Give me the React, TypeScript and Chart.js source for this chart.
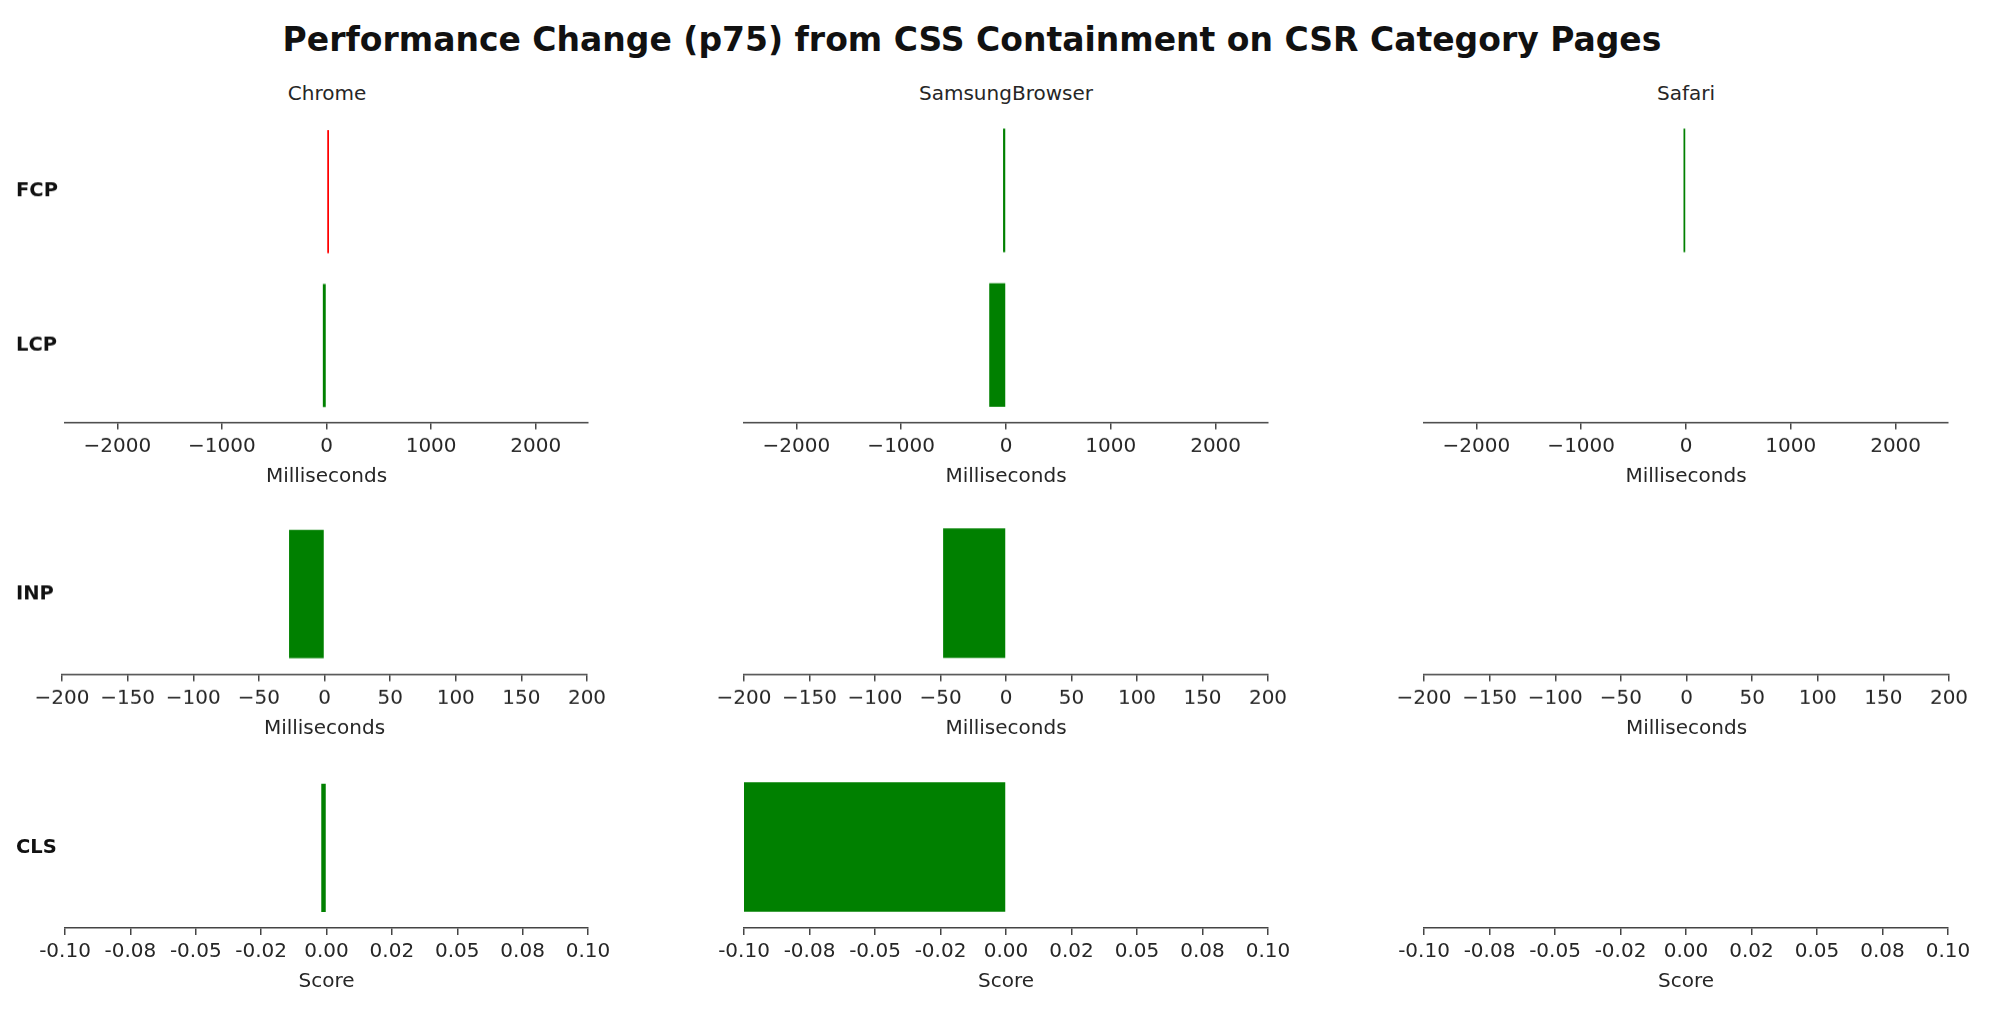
import React, { useEffect, useRef } from "react";
import { Chart, registerables } from "chart.js";

Chart.register(...registerables);

// ---------------- data ----------------
const chartTitle = "Performance Change (p75) from CSS Containment on CSR Category Pages";
const browsers = ["Chrome", "SamsungBrowser", "Safari"];

const timingMetrics = ["FCP", "LCP"];
const inpMetrics = ["INP"];
const clsMetrics = ["CLS"];

// p75 change per browser (negative = improvement)
const chromeTiming = [5, -35];
const samsungTiming = [-28, -160];
const safariTiming: (number | null)[] = [-3, null];

const chromeInp = [-27];
const samsungInp = [-48];
const safariInp: (number | null)[] = [null];

const chromeCls = [-0.002];
const samsungCls = [-0.1];
const safariCls: (number | null)[] = [null];

const timingRange = [-2500, 2500];
const timingTicks = [-2000, -1000, 0, 1000, 2000];
const timingTickLabels = ["\u22122000", "\u22121000", "0", "1000", "2000"];

const inpRange = [-200, 200];
const inpTicks = [-200, -150, -100, -50, 0, 50, 100, 150, 200];
const inpTickLabels = ["\u2212200", "\u2212150", "\u2212100", "\u221250", "0", "50", "100", "150", "200"];

const clsRange = [-0.1, 0.1];
const clsTicks = [-0.1, -0.075, -0.05, -0.025, 0, 0.025, 0.05, 0.075, 0.1];
const clsTickLabels = ["-0.10", "-0.08", "-0.05", "-0.02", "0.00", "0.02", "0.05", "0.08", "0.10"];

const msLabel = "Milliseconds";
const scoreLabel = "Score";

// ---------------- styling / layout ----------------
const FONT = "'DejaVu Sans', sans-serif";
const GREEN = "#008000";
const RED = "#ff0000";
const AXIS_COLOR = "#444444";
const TEXT_COLOR = "#262626";

Chart.defaults.font.family = FONT;

const PAD_R = 50;
const PAD_T = 10;
const X_AXIS_H = 70;
const ROW_LABEL_X = 16;

type RowDef = {
  metrics: string[];
  series: (number | null)[][];
  range: number[];
  ticks: number[];
  tickLabels: string[];
  axisTitle: string;
  areaTop: number;
  areaBottom: number;
  cols: number[][];
};

const rows: RowDef[] = [
  {
    metrics: timingMetrics,
    series: [chromeTiming, samsungTiming, safariTiming],
    range: timingRange,
    ticks: timingTicks,
    tickLabels: timingTickLabels,
    axisTitle: msLabel,
    areaTop: 113,
    areaBottom: 421.5,
    cols: [[65, 588], [744, 1268], [1424, 1948]],
  },
  {
    metrics: inpMetrics,
    series: [chromeInp, samsungInp, safariInp],
    range: inpRange,
    ticks: inpTicks,
    tickLabels: inpTickLabels,
    axisTitle: msLabel,
    areaTop: 512,
    areaBottom: 673.5,
    cols: [[62, 587], [744, 1268], [1424, 1949]],
  },
  {
    metrics: clsMetrics,
    series: [chromeCls, samsungCls, safariCls],
    range: clsRange,
    ticks: clsTicks,
    tickLabels: clsTickLabels,
    axisTitle: scoreLabel,
    areaTop: 766,
    areaBottom: 928,
    cols: [[65, 588], [744, 1268], [1424, 1948]],
  },
];

const colCenters = [327, 1006, 1686];

function Panel({ row, col }: { row: RowDef; col: number }) {
  const ref = useRef<HTMLCanvasElement>(null);
  const showY = col === 0;
  const [areaL, areaR] = row.cols[col];
  const canvasLeft = showY ? 0 : areaL - 50;
  const padL = showY ? ROW_LABEL_X : 50;
  const width = areaR - canvasLeft + PAD_R;
  const canvasTop = row.areaTop - PAD_T;
  const height = row.areaBottom - row.areaTop + PAD_T + X_AXIS_H;

  useEffect(() => {
    const values = row.series[col];
    const points = row.metrics
      .map((m, i) => ({ y: m, x: values[i] }))
      .filter((p) => p.x !== null && p.x !== undefined);
    const colors = points.map((p) => ((p.x as number) > 0 ? RED : GREEN));

    const chart = new Chart(ref.current as HTMLCanvasElement, {
      type: "bar",
      data: {
        labels: row.metrics,
        datasets: [
          {
            data: points as any,
            backgroundColor: colors,
            borderWidth: 0,
            barPercentage: 0.8,
            categoryPercentage: 1.0,
            minBarLength: 2.5,
          },
        ],
      },
      options: {
        indexAxis: "y",
        animation: false,
        responsive: true,
        maintainAspectRatio: false,
        layout: { padding: { left: padL, right: PAD_R, top: PAD_T, bottom: 0 } },
        plugins: {
          legend: { display: false },
          tooltip: { enabled: false },
          title: { display: false },
        },
        scales: {
          x: {
            type: "linear",
            position: "bottom",
            min: row.range[0],
            max: row.range[1],
            afterBuildTicks: (axis: any) => {
              axis.ticks = row.ticks.map((v) => ({ value: v }));
            },
            afterFit: (axis: any) => {
              axis.height = X_AXIS_H;
            },
            ticks: {
              autoSkip: false,
              maxRotation: 0,
              padding: 5,
              color: TEXT_COLOR,
              font: { size: 20, family: FONT },
              callback: (_v: any, i: number) => row.tickLabels[i],
            },
            grid: {
              display: true,
              drawOnChartArea: false,
              drawTicks: true,
              tickLength: 7,
              color: AXIS_COLOR,
              lineWidth: 1.5,
            },
            border: { display: true, color: AXIS_COLOR, width: 1.5 },
            title: {
              display: true,
              text: row.axisTitle,
              color: TEXT_COLOR,
              font: { size: 20, family: FONT },
              padding: { top: 0, bottom: 4 },
            },
          },
          y: {
            type: "category",
            display: showY,
            afterFit: (axis: any) => {
              if (showY) axis.width = areaL - ROW_LABEL_X;
            },
            grid: { display: false },
            border: { display: false },
            ticks: {
              crossAlign: "far",
              padding: 0,
              color: "#111111",
              font: { size: 19.5, weight: "bold", family: FONT },
            },
          },
        },
      },
    } as any);
    return () => chart.destroy();
  }, []);

  return (
    <div style={{ position: "absolute", left: canvasLeft, top: canvasTop, width, height }}>
      <canvas ref={ref} />
    </div>
  );
}

export default function App() {
  return (
    <div
      style={{
        position: "fixed",
        left: 0,
        top: 0,
        width: 2000,
        height: 1014,
        background: "#ffffff",
        fontFamily: FONT,
        overflow: "hidden",
      }}
    >
      <div
        style={{
          position: "absolute",
          left: 0,
          top: 19.5,
          width: 1944,
          height: 40,
          lineHeight: "40px",
          textAlign: "center",
          fontWeight: "bold",
          fontSize: 33,
          color: "#111111",
          whiteSpace: "nowrap",
        }}
      >
        {chartTitle}
      </div>
      {browsers.map((b, i) => (
        <div
          key={b}
          style={{
            position: "absolute",
            left: colCenters[i] - 200,
            top: 81,
            width: 400,
            height: 24,
            lineHeight: "24px",
            textAlign: "center",
            fontSize: 20,
            color: TEXT_COLOR,
          }}
        >
          {b}
        </div>
      ))}
      {rows.map((row, r) =>
        browsers.map((b, c) => <Panel key={`${r}-${c}`} row={row} col={c} />)
      )}
    </div>
  );
}
